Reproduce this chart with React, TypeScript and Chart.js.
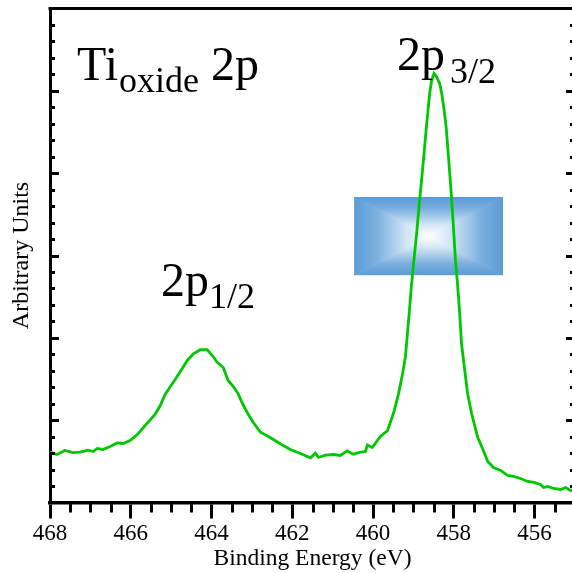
import React, { useEffect, useRef } from 'react';
import { Chart, registerables } from 'chart.js';

Chart.register(...registerables);

// Binding energy (eV) and intensity (arbitrary units)
const energy = [
  468.0, 467.83, 467.63, 467.43, 467.26, 467.06, 466.93, 466.83, 466.69, 466.51,
  466.34, 466.19, 466.02, 465.89, 465.77, 465.6, 465.52, 465.4, 465.27, 465.15,
  465.02, 464.9, 464.73, 464.6, 464.45, 464.28, 464.11, 463.98, 463.86, 463.71,
  463.59, 463.46, 463.34, 463.21, 463.12, 462.97, 462.79, 462.59, 462.3, 462.05,
  461.8, 461.55, 461.43, 461.35, 461.18, 460.98, 460.81, 460.64, 460.56, 460.49,
  460.31, 460.19, 460.14, 460.02, 459.82, 459.64, 459.49, 459.37, 459.27, 459.2,
  459.15, 459.1, 459.05, 458.99, 458.92, 458.86, 458.8, 458.75, 458.68, 458.6,
  458.55, 458.49, 458.43, 458.35, 458.3, 458.24, 458.19, 458.13, 458.07, 458.02,
  457.96, 457.91, 457.86, 457.81, 457.73, 457.66, 457.56, 457.41, 457.29, 457.16,
  457.02, 456.84, 456.67, 456.52, 456.35, 456.17, 456.02, 455.85, 455.78, 455.68,
  455.53, 455.35, 455.23, 455.11, 455.0,
];
const intensity = [
  0.611, 0.583, 0.632, 0.607, 0.611, 0.635, 0.619, 0.656, 0.644, 0.68,
  0.723, 0.717, 0.753, 0.802, 0.862, 0.96, 1.004, 1.069, 1.178, 1.312,
  1.409, 1.494, 1.624, 1.725, 1.806, 1.855, 1.855, 1.785, 1.704, 1.64,
  1.482, 1.409, 1.32, 1.178, 1.097, 0.975, 0.854, 0.802, 0.713, 0.644,
  0.595, 0.543, 0.599, 0.547, 0.575, 0.583, 0.571, 0.628, 0.604, 0.587,
  0.613, 0.619, 0.698, 0.668, 0.802, 0.875, 1.093, 1.32, 1.563, 1.765,
  2.049, 2.332, 2.636, 2.939, 3.279, 3.607, 3.911, 4.178, 4.558, 4.964,
  5.126, 5.211, 5.174, 5.086, 4.968, 4.761, 4.558, 4.178, 3.79, 3.425,
  2.939, 2.66, 2.332, 1.931, 1.603, 1.324, 1.081, 0.793, 0.656, 0.498,
  0.425, 0.389, 0.328, 0.316, 0.292, 0.255, 0.243, 0.219, 0.182, 0.194,
  0.17, 0.158, 0.182, 0.146, 0.15,
];

const xMajorTicks = [468, 466, 464, 462, 460, 458, 456];
const X_MIN = 455;
const X_MAX = 468;
const X_MINOR_STEP = 0.5;
const Y_MIN = 0;
const Y_MAX = 6;
const Y_MINOR_STEP = 0.2;
const Y_MAJOR_EVERY = 5;

// decorative gradient box, in data coordinates
const boxEnergy = [460.47, 456.78];
const boxIntensity = [3.71, 2.76];

const SERIF = '"Liberation Serif", "Times New Roman", Times, serif';

const framePlugin = {
  id: 'frame',
  beforeDatasetsDraw(chart: any) {
    const { ctx, scales } = chart;
    const xs = scales.x;
    const ys = scales.y;
    const a = xs.getPixelForValue(boxEnergy[0]);
    const b = xs.getPixelForValue(boxEnergy[1]);
    const c = ys.getPixelForValue(boxIntensity[0]);
    const d = ys.getPixelForValue(boxIntensity[1]);
    const x0 = Math.min(a, b), x1 = Math.max(a, b);
    const y0 = Math.min(c, d), y1 = Math.max(c, d);
    const cx = (x0 + x1) / 2, cy = (y0 + y1) / 2;
    const stops = (g: CanvasGradient) => {
      g.addColorStop(0, '#5b9bd5');
      g.addColorStop(0.3, '#7bb0df');
      g.addColorStop(0.7, '#d2e4f5');
      g.addColorStop(1, '#ffffff');
      return g;
    };
    const tri = (pts: number[][], g: CanvasGradient) => {
      ctx.beginPath();
      ctx.moveTo(pts[0][0], pts[0][1]);
      ctx.lineTo(pts[1][0], pts[1][1]);
      ctx.lineTo(pts[2][0], pts[2][1]);
      ctx.closePath();
      ctx.fillStyle = g;
      ctx.fill();
      ctx.strokeStyle = g;
      ctx.lineWidth = 0.8;
      ctx.stroke();
    };
    ctx.save();
    ctx.beginPath();
    ctx.rect(x0, y0, x1 - x0, y1 - y0);
    ctx.clip();
    tri([[x0, y0], [x1, y0], [cx, cy]], stops(ctx.createLinearGradient(0, y0, 0, cy)));
    tri([[x0, y1], [x1, y1], [cx, cy]], stops(ctx.createLinearGradient(0, y1, 0, cy)));
    tri([[x0, y0], [x0, y1], [cx, cy]], stops(ctx.createLinearGradient(x0, 0, cx, 0)));
    tri([[x1, y0], [x1, y1], [cx, cy]], stops(ctx.createLinearGradient(x1, 0, cx, 0)));
    ctx.restore();
  },
  afterDraw(chart: any) {
    const { ctx, chartArea, scales } = chart;
    const xs = scales.x;
    const ys = scales.y;
    const { left, right, top, bottom } = chartArea;
    ctx.save();
    ctx.strokeStyle = '#000';
    ctx.lineCap = 'butt';
    ctx.lineWidth = 3;
    // top and right spines
    ctx.beginPath();
    ctx.moveTo(left - 1.5, top);
    ctx.lineTo(right + 1.5, top);
    ctx.moveTo(right, top);
    ctx.lineTo(right, bottom);
    ctx.stroke();
    // y ticks (inward, left and right)
    const nY = Math.round((Y_MAX - Y_MIN) / Y_MINOR_STEP);
    ctx.beginPath();
    for (let i = 1; i < nY; i++) {
      const v = Y_MIN + i * Y_MINOR_STEP;
      const py = Math.round(ys.getPixelForValue(v)) + 0.5;
      const len = i % Y_MAJOR_EVERY === 0 ? 9 : 5;
      ctx.moveTo(left, py);
      ctx.lineTo(left + len, py);
      ctx.moveTo(right, py);
      ctx.lineTo(right - len, py);
    }
    ctx.stroke();
    // x minor ticks (outward)
    const nX = Math.round((X_MAX - X_MIN) / X_MINOR_STEP);
    ctx.beginPath();
    for (let i = 1; i < nX; i++) {
      const v = X_MIN + i * X_MINOR_STEP;
      if (xMajorTicks.includes(v)) continue;
      const px = Math.round(xs.getPixelForValue(v)) + 0.5;
      ctx.moveTo(px, bottom);
      ctx.lineTo(px, bottom + 10);
    }
    ctx.stroke();

    // annotations
    ctx.fillStyle = '#000';
    ctx.textBaseline = 'alphabetic';
    ctx.textAlign = 'left';
    const big = `48px ${SERIF}`;
    const small = `36px ${SERIF}`;
    // Ti_oxide 2p
    ctx.font = big;
    ctx.fillText('Ti', 77, 80);
    let x = 77 + ctx.measureText('Ti').width + 1;
    ctx.font = small;
    ctx.fillText('oxide', x, 92);
    x += ctx.measureText('oxide').width;
    ctx.font = big;
    x += ctx.measureText(' ').width;
    ctx.fillText('2p', x, 80);
    // 2p3/2
    ctx.font = big;
    ctx.fillText('2p', 397, 70);
    ctx.font = small;
    ctx.fillText('3/2', 450, 83);
    // 2p1/2
    ctx.font = big;
    ctx.fillText('2p', 161, 296);
    ctx.font = small;
    ctx.fillText('1/2', 209, 308);
    ctx.restore();
  },
};

export default function App() {
  const canvasRef = useRef<HTMLCanvasElement | null>(null);

  useEffect(() => {
    const canvas = canvasRef.current;
    if (!canvas) return;
    const chart = new Chart(canvas, {
      type: 'line',
      data: {
        datasets: [
          {
            data: energy.map((e, i) => ({ x: e, y: intensity[i] })),
            borderColor: '#00c800',
            borderWidth: 2.8,
            pointRadius: 0,
            tension: 0,
            fill: false,
          },
        ],
      },
      options: {
        responsive: false,
        animation: false,
        devicePixelRatio: 1,
        layout: { padding: { top: 8.5, right: 5, left: 0, bottom: 0 } },
        plugins: { legend: { display: false }, tooltip: { enabled: false } },
        scales: {
          x: {
            type: 'linear',
            reverse: true,
            min: X_MIN,
            max: X_MAX,
            afterBuildTicks: (s: any) => {
              s.ticks = xMajorTicks.map((v) => ({ value: v }));
            },
            afterFit: (s: any) => {
              s.height = 70.5;
            },
            ticks: {
              color: '#000',
              font: { family: SERIF, size: 23 },
              padding: 2,
              maxRotation: 0,
              autoSkip: false,
            },
            grid: {
              display: true,
              drawOnChartArea: false,
              drawTicks: true,
              tickLength: 16,
              tickWidth: 3,
              tickColor: '#000',
              color: '#000',
              lineWidth: 3,
            },
            border: { display: true, color: '#000', width: 3.5 },
            title: {
              display: true,
              text: 'Binding Energy (eV)',
              color: '#000',
              font: { family: SERIF, size: 23.5 },
              padding: { top: 0, bottom: 0 },
            },
          },
          y: {
            type: 'linear',
            min: Y_MIN,
            max: Y_MAX,
            afterFit: (s: any) => {
              s.width = 50;
            },
            ticks: { display: false },
            grid: { display: false, drawTicks: false },
            border: { display: true, color: '#000', width: 3 },
            title: {
              display: true,
              text: 'Arbitrary Units',
              color: '#000',
              font: { family: SERIF, size: 24 },
              padding: { top: 7, bottom: 0 },
            },
          },
        },
      },
      plugins: [framePlugin],
    } as any);
    return () => chart.destroy();
  }, []);

  return (
    <div
      style={{
        position: 'fixed',
        left: 0,
        top: 0,
        width: 572,
        height: 573,
        overflow: 'hidden',
        background: '#fff',
      }}
    >
      <canvas ref={canvasRef} width={580} height={573} style={{ display: 'block', width: 580, height: 573 }} />
    </div>
  );
}
